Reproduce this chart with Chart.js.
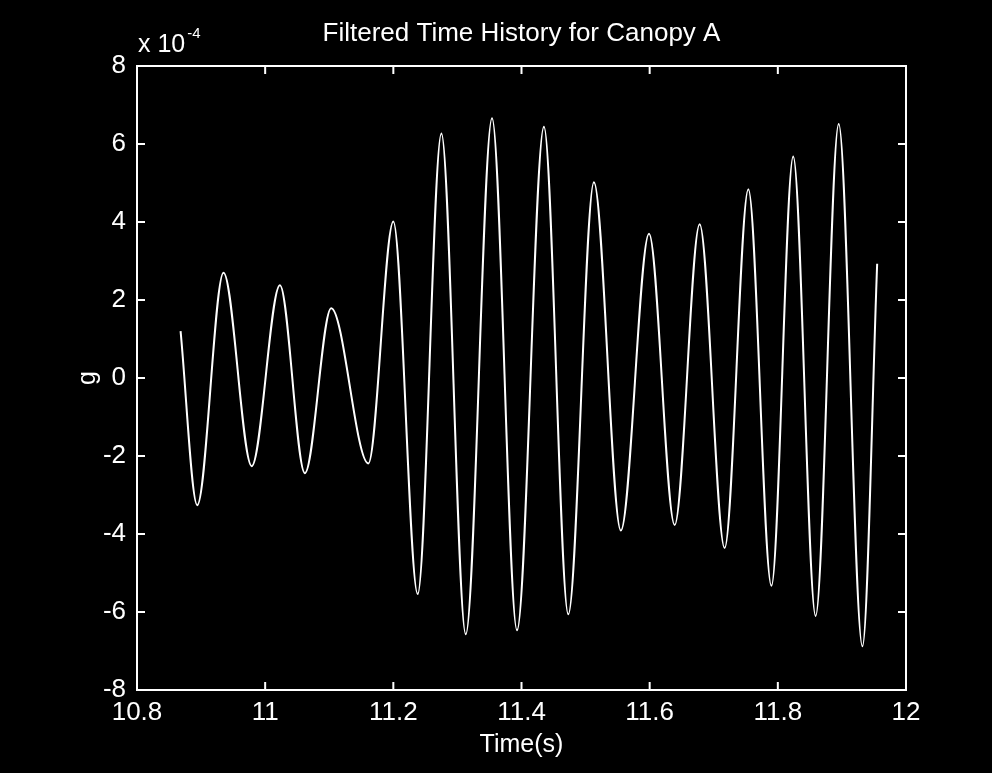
<!DOCTYPE html>
<html>
<head>
<meta charset="utf-8">
<title>Filtered Time History for Canopy A</title>
<script src="https://cdn.jsdelivr.net/npm/chart.js@4"></script>
<style>
  html, body { margin: 0; padding: 0; background: #000; }
  #wrap { width: 992px; height: 773px; }
</style>
</head>
<body>
<div id="wrap"><canvas id="chart" width="992" height="773"></canvas></div>
<script>
// time (s) and acceleration in units of 1e-4 g
const timeS = [10.868, 10.894, 10.935, 10.979, 11.023, 11.062, 11.103, 11.161,
  11.200, 11.238, 11.275, 11.313, 11.354, 11.393, 11.435, 11.473, 11.513,
  11.555, 11.599, 11.639, 11.678, 11.717, 11.754, 11.790, 11.824, 11.859,
  11.895, 11.932, 11.955];
const accel = [1.2, -3.26, 2.70, -2.26, 2.38, -2.44, 1.79, -2.19,
  4.01, -5.54, 6.27, -6.57, 6.66, -6.47, 6.44, -6.06, 5.02,
  -3.91, 3.70, -3.77, 3.94, -4.36, 4.84, -5.33, 5.68, -6.10,
  6.51, -6.88, 2.93];

const xTicks = [10.8, 11, 11.2, 11.4, 11.6, 11.8, 12];
const yTicks = [-8, -6, -4, -2, 0, 2, 4, 6, 8];

const titleText = 'Filtered Time History for Canopy A';
const xLabel = 'Time(s)';
const yLabel = 'g';
const expBase = 'x 10';
const expPower = '-4';

const FONT = "'Liberation Sans', Arial, sans-serif";

// box, inward ticks, title and the exponent note, matlab style
const matlabFrame = {
  id: 'matlabFrame',
  afterDraw(chart) {
    const ctx = chart.ctx;
    const a = chart.chartArea;
    const xs = chart.scales.x;
    const ys = chart.scales.y;
    const len = 8;
    ctx.save();
    ctx.strokeStyle = '#fff';
    ctx.lineWidth = 2;
    ctx.strokeRect(a.left, a.top, a.right - a.left, a.bottom - a.top);
    ctx.beginPath();
    xTicks.forEach(v => {
      const px = xs.getPixelForValue(v);
      ctx.moveTo(px, a.bottom); ctx.lineTo(px, a.bottom - len);
      ctx.moveTo(px, a.top); ctx.lineTo(px, a.top + len);
    });
    yTicks.forEach(v => {
      const py = ys.getPixelForValue(v);
      ctx.moveTo(a.left, py); ctx.lineTo(a.left + len, py);
      ctx.moveTo(a.right, py); ctx.lineTo(a.right - len, py);
    });
    ctx.stroke();

    ctx.fillStyle = '#fff';
    ctx.textAlign = 'center';
    ctx.textBaseline = 'alphabetic';
    ctx.font = '26px ' + FONT;
    ctx.fillText(titleText, (a.left + a.right) / 2, 41);

    ctx.textAlign = 'left';
    ctx.font = '25px ' + FONT;
    ctx.fillText(expBase, a.left + 1, 52);
    const w = ctx.measureText(expBase).width;
    ctx.font = '15px ' + FONT;
    ctx.fillText(expPower, a.left + 3 + w, 38);
    ctx.restore();
  }
};

const ctx = document.getElementById('chart').getContext('2d');
new Chart(ctx, {
  type: 'line',
  data: {
    datasets: [{
      data: timeS.map((t, i) => ({ x: t, y: accel[i] })),
      borderColor: '#fff',
      borderWidth: 2,
      pointRadius: 0,
      cubicInterpolationMode: 'monotone',
      fill: false
    }]
  },
  options: {
    responsive: false,
    animation: false,
    devicePixelRatio: 1,
    layout: { padding: { top: 66, right: 86, left: 0, bottom: 0 } },
    plugins: {
      legend: { display: false },
      tooltip: { enabled: false }
    },
    scales: {
      x: {
        type: 'linear',
        min: 10.8,
        max: 12,
        afterBuildTicks: s => { s.ticks = xTicks.map(v => ({ value: v })); },
        afterFit: s => { s.height = 83; },
        grid: { display: false, drawTicks: false },
        border: { display: false },
        ticks: {
          color: '#fff',
          padding: 10,
          maxRotation: 0,
          font: { family: FONT, size: 26, lineHeight: 1 },
          callback: v => String(Number(v.toFixed(1)))
        },
        title: {
          display: true,
          text: xLabel,
          color: '#fff',
          font: { family: FONT, size: 25, lineHeight: 1.2 },
          padding: { top: 0, bottom: 13 }
        }
      },
      y: {
        min: -8,
        max: 8,
        afterBuildTicks: s => { s.ticks = yTicks.map(v => ({ value: v })); },
        afterFit: s => { s.width = 137; },
        grid: { display: false, drawTicks: false },
        border: { display: false },
        ticks: {
          color: '#fff',
          padding: 11,
          font: { family: FONT, size: 26, lineHeight: 1 }
        },
        title: {
          display: true,
          text: yLabel,
          color: '#fff',
          font: { family: FONT, size: 25, lineHeight: 1.2 },
          padding: { top: 73, bottom: 0 }
        }
      }
    }
  },
  plugins: [matlabFrame]
});
</script>
</body>
</html>
